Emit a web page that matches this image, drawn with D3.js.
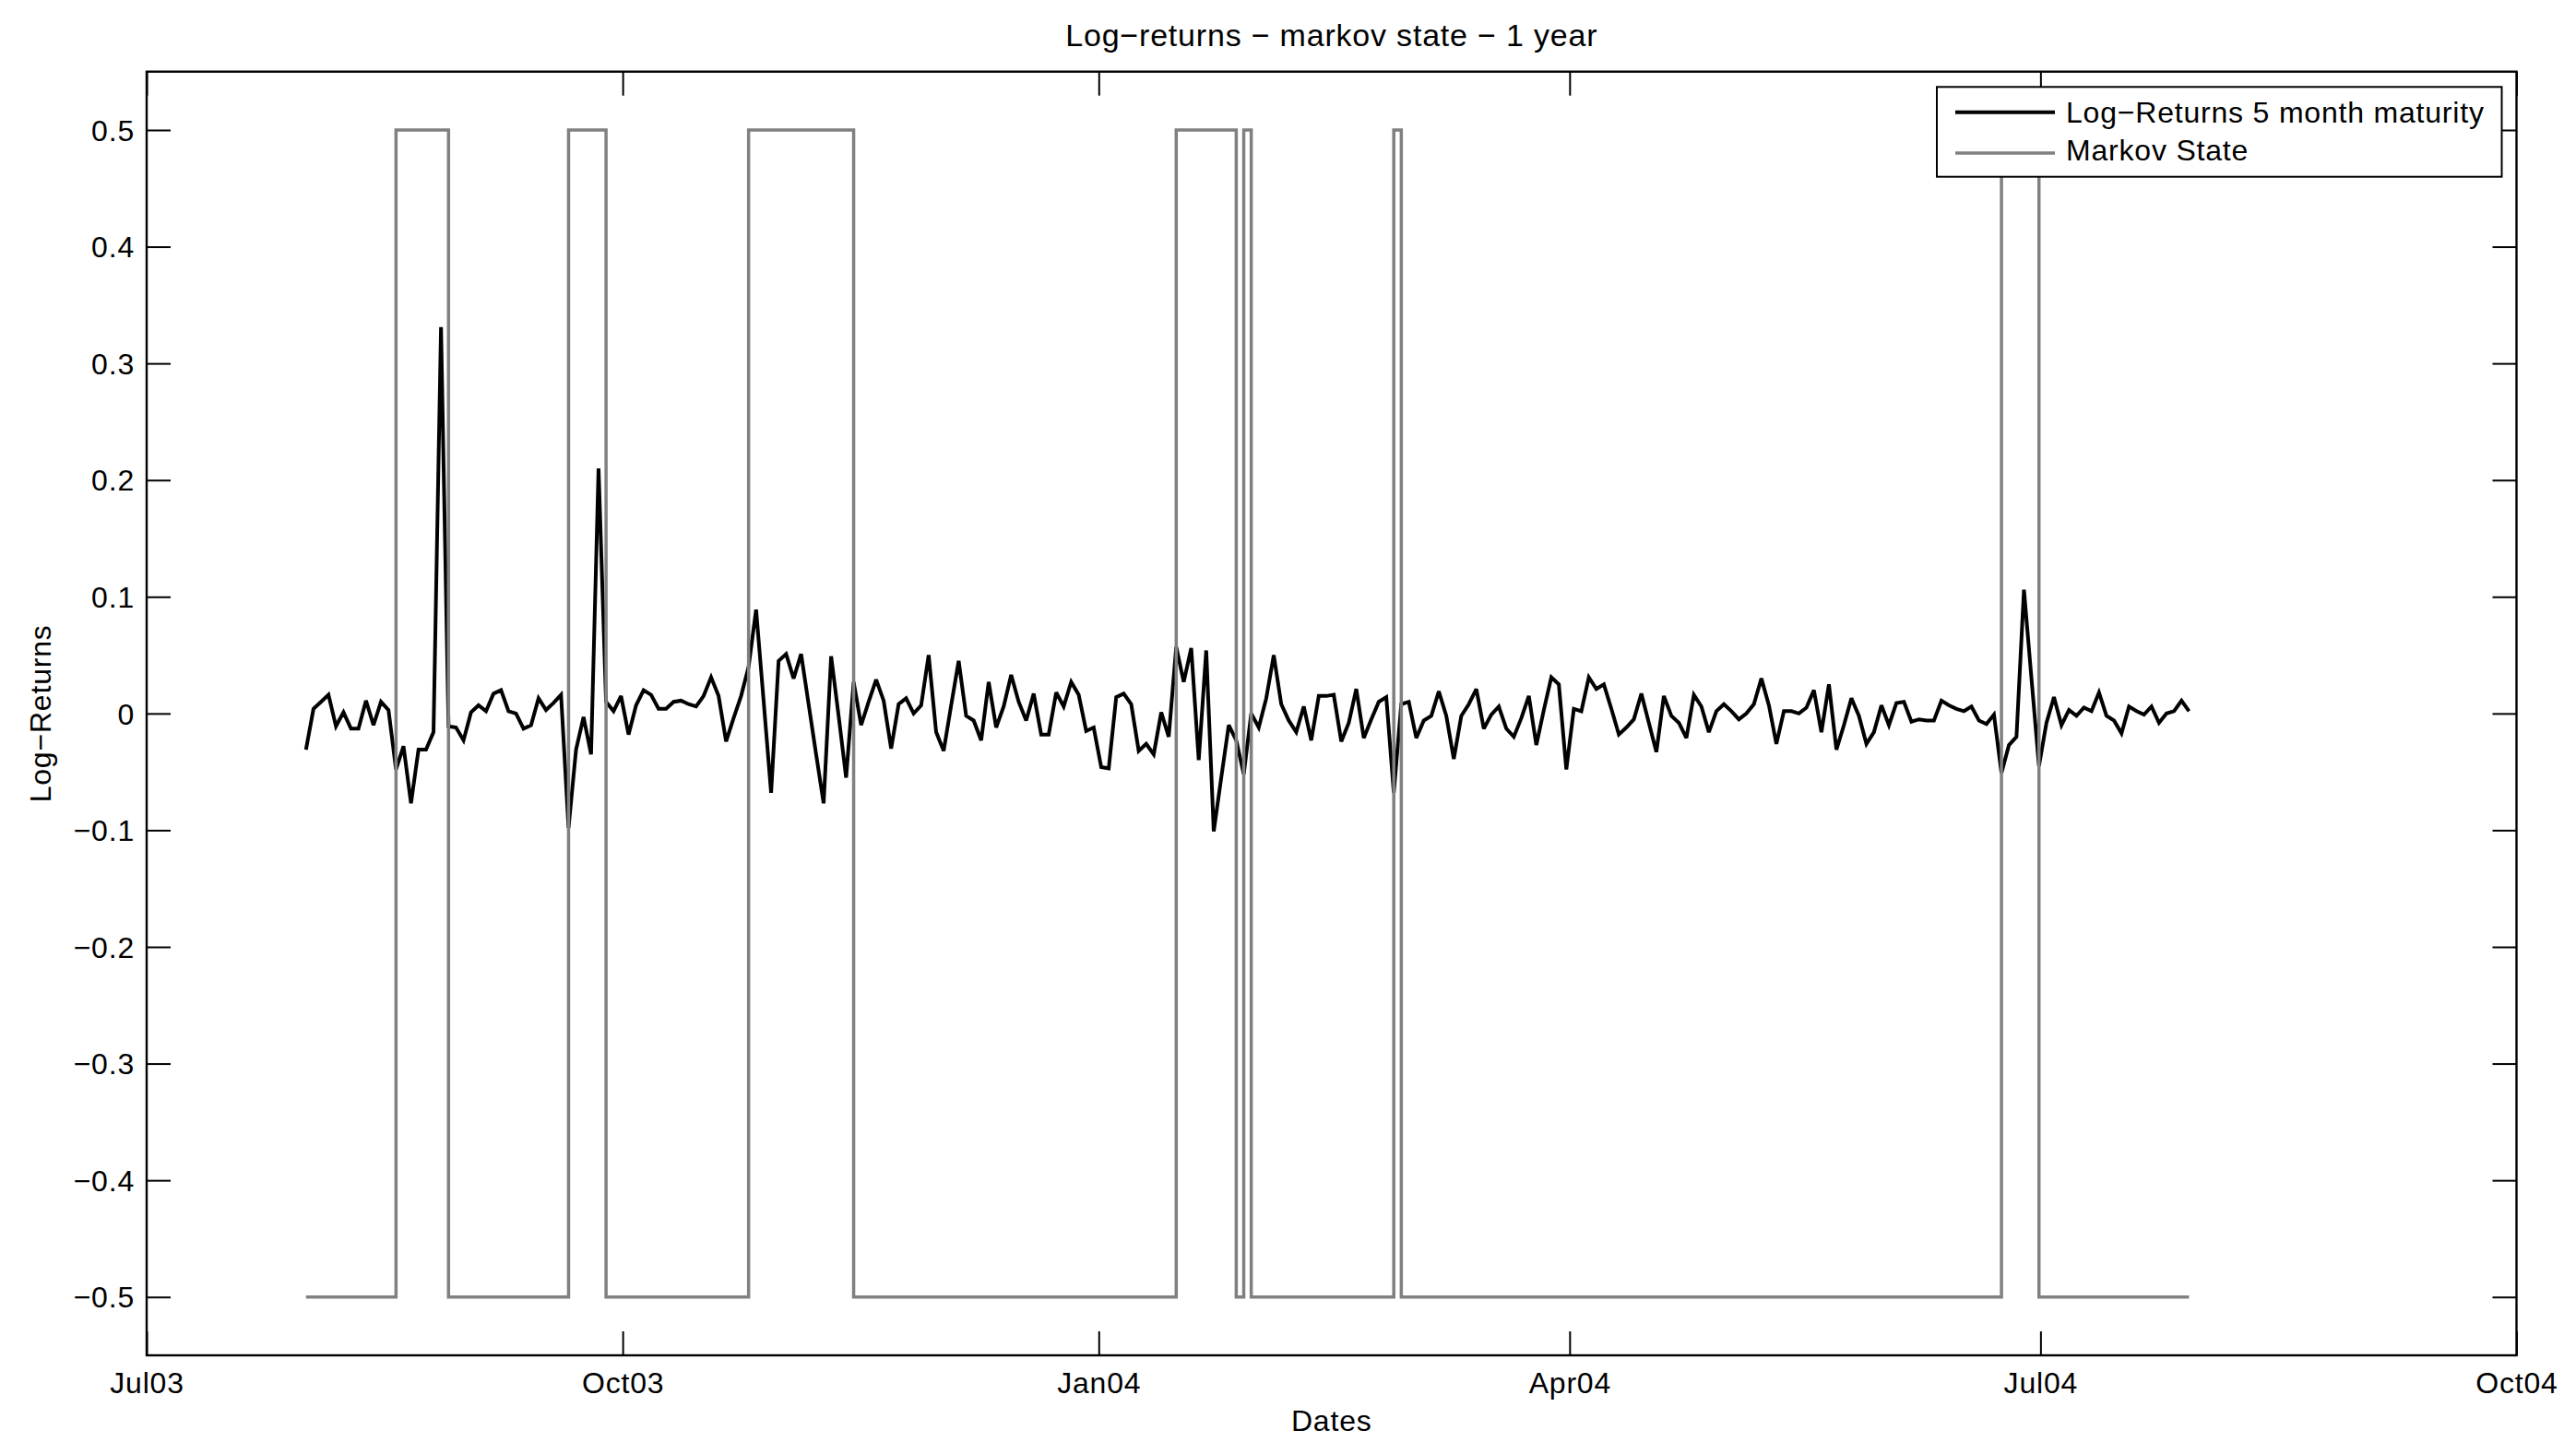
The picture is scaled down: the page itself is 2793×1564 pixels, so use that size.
<!DOCTYPE html>
<html>
<head>
<meta charset="utf-8">
<script src="https://cdn.jsdelivr.net/npm/d3@7"></script>
<style>
  body { margin: 0; background: #fff; }
  text { font-family: "Liberation Sans", Arial, Helvetica, sans-serif; fill: #000; }
</style>
</head>
<body>
<svg id="chart" width="2793" height="1564"></svg>
<script>
// ---------------- DATA ----------------
const chartTitle = "Log\u2212returns \u2212 markov state \u2212 1 year";
const xAxisLabel = "Dates";
const yAxisLabel = "Log\u2212Returns";
const seriesNames = ["Log\u2212Returns 5 month maturity", "Markov State"];

// first and last observation dates (observations are evenly spaced between them)
const firstObsDate = new Date(2003, 6, 31, 19);
const lastObsDate = new Date(2004, 6, 29, 17);

// log-returns, one value per observation
const logReturns = [
  -0.031, 0.004, 0.010, 0.016, -0.011, 0.001, -0.013, -0.013, 0.011, -0.010,
  0.010, 0.003, -0.048, -0.028, -0.077, -0.031, -0.031, -0.016, 0.331, -0.011,
  -0.012, -0.023, 0.001, 0.007, 0.002, 0.017, 0.020, 0.002, 0.000, -0.013,
  -0.010, 0.013, 0.003, 0.009, 0.016, -0.098, -0.031, -0.003, -0.035, 0.210,
  0.010, 0.002, 0.015, -0.018, 0.007, 0.020, 0.016, 0.004, 0.004, 0.010,
  0.011, 0.008, 0.006, 0.015, 0.031, 0.015, -0.024, -0.004, 0.015, 0.040,
  0.089, 0.011, -0.068, 0.045, 0.051, 0.030, 0.051, 0.008, -0.035, -0.077,
  0.049, -0.002, -0.055, 0.027, -0.010, 0.010, 0.029, 0.011, -0.030, 0.008,
  0.013, 0.000, 0.007, 0.050, -0.016, -0.032, 0.007, 0.045, -0.002, -0.006,
  -0.023, 0.027, -0.012, 0.006, 0.033, 0.010, -0.006, 0.017, -0.018, -0.018,
  0.018, 0.006, 0.027, 0.016, -0.015, -0.012, -0.046, -0.047, 0.014, 0.017,
  0.008, -0.032, -0.026, -0.035, 0.001, -0.020, 0.057, 0.027, 0.056, -0.040,
  0.054, -0.101, -0.055, -0.010, -0.023, -0.052, 0.000, -0.012, 0.013, 0.050,
  0.008, -0.006, -0.016, 0.006, -0.023, 0.015, 0.015, 0.016, -0.024, -0.008,
  0.021, -0.021, -0.005, 0.010, 0.014, -0.068, 0.008, 0.010, -0.021, -0.006,
  -0.002, 0.019, -0.002, -0.039, -0.002, 0.008, 0.021, -0.013, -0.001, 0.006,
  -0.013, -0.020, -0.004, 0.015, -0.027, 0.003, 0.031, 0.025, -0.048, 0.004,
  0.002, 0.031, 0.021, 0.025, 0.004, -0.018, -0.012, -0.005, 0.017, -0.008,
  -0.033, 0.015, -0.002, -0.008, -0.021, 0.016, 0.006, -0.016, 0.002, 0.008,
  0.002, -0.005, 0.000, 0.008, 0.030, 0.007, -0.026, 0.002, 0.002, 0.000,
  0.005, 0.020, -0.016, 0.025, -0.031, -0.010, 0.013, -0.002, -0.026, -0.016,
  0.007, -0.010, 0.009, 0.010, -0.007, -0.005, -0.006, -0.006, 0.011, 0.007,
  0.004, 0.002, 0.006, -0.006, -0.009, -0.001, -0.051, -0.027, -0.020, 0.106,
  0.030, -0.045, -0.008, 0.014, -0.010, 0.003, -0.002, 0.005, 0.002, 0.018,
  -0.002, -0.006, -0.017, 0.006, 0.002, -0.001, 0.006, -0.008, 0.000, 0.002,
  0.011, 0.002
];

// Markov state: observation index where the state changes, and the new state
const markovChangeIndex = [0, 12, 19, 35, 40, 59, 73, 116, 124, 125, 126, 145, 146, 226, 231];
const markovChangeState = [-0.5, 0.5, -0.5, 0.5, -0.5, 0.5, -0.5, 0.5, -0.5, 0.5, -0.5, 0.5, -0.5, 0.5, -0.5];

// axes
const xDomain = [new Date(2003, 6, 1), new Date(2004, 9, 1)];
const xTickDates = [new Date(2003, 6, 1), new Date(2003, 9, 1), new Date(2004, 0, 1),
                    new Date(2004, 3, 1), new Date(2004, 6, 1), new Date(2004, 9, 1)];
const yDomain = [-0.55, 0.55];
const yTickValues = [-0.5, -0.4, -0.3, -0.2, -0.1, 0, 0.1, 0.2, 0.3, 0.4, 0.5];

// ---------------- LAYOUT ----------------
const W = 2793, H = 1564;
const plot = { left: 159, right: 2728.5, top: 77.7, bottom: 1470 };
const tickLen = 26;
const fontSize = 32;
const letterSp = "0.8px";

const svg = d3.select("#chart");
svg.append("rect").attr("width", W).attr("height", H).attr("fill", "#fff");

const x = d3.scaleTime().domain(xDomain).range([plot.left, plot.right]);
const y = d3.scaleLinear().domain(yDomain).range([plot.bottom, plot.top]);

// observation index -> time (ms)
const obsTime = d3.scaleLinear().domain([0, logReturns.length - 1]).range([+firstObsDate, +lastObsDate]);

const returnsData = logReturns.map((v, i) => ({ date: new Date(obsTime(i)), value: v }));
const markovData = logReturns.map((v, i) => {
  let s = markovChangeState[0];
  for (let k = 0; k < markovChangeIndex.length; k++) if (markovChangeIndex[k] <= i) s = markovChangeState[k];
  return { date: new Date(obsTime(i)), value: s };
});

// ---------------- LINES ----------------
const lineReturns = d3.line().x(d => x(d.date)).y(d => y(d.value));
const lineMarkov = d3.line().x(d => x(d.date)).y(d => y(d.value)).curve(d3.curveStepAfter);

svg.append("path").datum(returnsData)
  .attr("d", lineReturns).attr("fill", "none").attr("stroke", "#000")
  .attr("stroke-width", 4).attr("stroke-linejoin", "miter").attr("stroke-miterlimit", 3);

svg.append("path").datum(markovData)
  .attr("d", lineMarkov).attr("fill", "none").attr("stroke", "#808080")
  .attr("stroke-width", 3.5);

// ---------------- AXES ----------------
const fmtY = d => d === 0 ? "0" : d3.format(".1f")(d);
const fmtX = d3.timeFormat("%b%y");

function styleAxis(g) {
  g.select(".domain").remove();
  g.selectAll(".tick line").attr("stroke", "#000").attr("stroke-width", 2);
  g.selectAll(".tick text").attr("font-size", fontSize).attr("font-family", null)
    .attr("letter-spacing", letterSp).attr("fill", "#000");
}

svg.append("g").attr("transform", `translate(${plot.left},0)`)
  .call(d3.axisLeft(y).tickValues(yTickValues).tickFormat(fmtY).tickSize(-tickLen).tickSizeOuter(0).tickPadding(13))
  .call(styleAxis)
  .call(g => g.selectAll(".tick text").attr("dy", "0.35em"));

svg.append("g").attr("transform", `translate(${plot.right},0)`)
  .call(d3.axisRight(y).tickValues(yTickValues).tickFormat("").tickSize(-tickLen).tickSizeOuter(0))
  .call(styleAxis);

svg.append("g").attr("transform", `translate(0,${plot.bottom})`)
  .call(d3.axisBottom(x).tickValues(xTickDates).tickFormat(fmtX).tickSize(-tickLen).tickSizeOuter(0).tickPadding(18))
  .call(styleAxis)
  .call(g => g.selectAll(".tick text").attr("dy", "0.71em"));

svg.append("g").attr("transform", `translate(0,${plot.top})`)
  .call(d3.axisTop(x).tickValues(xTickDates).tickFormat("").tickSize(-tickLen).tickSizeOuter(0))
  .call(styleAxis);

// axes box
svg.append("rect")
  .attr("x", plot.left).attr("y", plot.top)
  .attr("width", plot.right - plot.left).attr("height", plot.bottom - plot.top)
  .attr("fill", "none").attr("stroke", "#000").attr("stroke-width", 2.4);

// ---------------- TEXT ----------------
const cx = (plot.left + plot.right) / 2;
const cy = (plot.top + plot.bottom) / 2;

svg.append("text").attr("x", cx).attr("y", 50).attr("text-anchor", "middle")
  .attr("font-size", 34).attr("letter-spacing", letterSp).text(chartTitle);

svg.append("text").attr("x", cx).attr("y", 1551.7).attr("text-anchor", "middle")
  .attr("font-size", fontSize).attr("letter-spacing", letterSp).text(xAxisLabel);

svg.append("text").attr("transform", `translate(55,${cy}) rotate(-90)`).attr("text-anchor", "middle")
  .attr("font-size", fontSize).attr("letter-spacing", letterSp).text(yAxisLabel);

// ---------------- LEGEND ----------------
const leg = { x: 2100, y: 94.3, w: 612.5, h: 97.4 };
const legendRows = [
  { name: seriesNames[0], color: "#000", width: 4, lineY: 121.7, textY: 132.5 },
  { name: seriesNames[1], color: "#808080", width: 3.5, lineY: 166, textY: 173.5 }
];
const lg = svg.append("g");
lg.append("rect").attr("x", leg.x).attr("y", leg.y).attr("width", leg.w).attr("height", leg.h)
  .attr("fill", "#fff").attr("stroke", "#000").attr("stroke-width", 2);
lg.selectAll("line.leg").data(legendRows).join("line").attr("class", "leg")
  .attr("x1", 2120).attr("x2", 2228).attr("y1", d => d.lineY).attr("y2", d => d.lineY)
  .attr("stroke", d => d.color).attr("stroke-width", d => d.width);
lg.selectAll("text.leg").data(legendRows).join("text").attr("class", "leg")
  .attr("x", 2240).attr("y", d => d.textY).attr("font-size", fontSize)
  .attr("letter-spacing", letterSp).text(d => d.name);
</script>
</body>
</html>
